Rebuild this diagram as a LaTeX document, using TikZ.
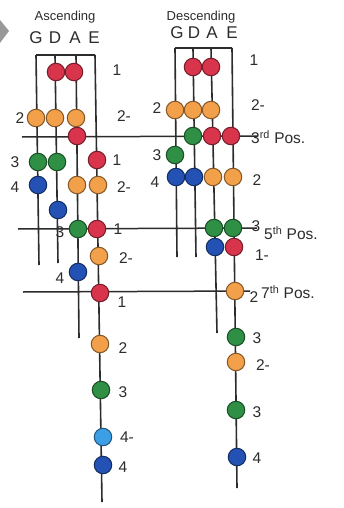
\documentclass[tikz,border=0pt]{standalone}
\usepackage{fontspec}
\setmainfont{Liberation Sans}
\definecolor{fred}{HTML}{D8344C}
\definecolor{forange}{HTML}{F2A04A}
\definecolor{fgreen}{HTML}{2F8F45}
\definecolor{fblue}{HTML}{2452B4}
\definecolor{flblue}{HTML}{3C9FE6}
\definecolor{ink}{HTML}{2C2C2C}
\tikzset{
  strg/.style={draw=ink, line width=1.6pt},
  posline/.style={draw=ink, line width=1.5pt},
  dot/.style={circle, minimum size=17.5pt, inner sep=0pt, line width=1pt},
  r/.style={dot, fill=fred, draw=fred!55!black},
  o/.style={dot, fill=forange, draw=forange!55!black},
  g/.style={dot, fill=fgreen, draw=fgreen!55!black},
  b/.style={dot, fill=fblue, draw=fblue!55!black},
  lb/.style={dot, fill=flblue, draw=flblue!55!black},
  lab/.style={font=\fontsize{15.5}{15.5}\selectfont, text=ink, inner sep=0pt},
  head/.style={font=\fontsize{13}{13}\selectfont, text=ink, inner sep=0pt},
  str/.style={font=\fontsize{17}{17}\selectfont, text=ink, inner sep=0pt},
}
\begin{document}
\begin{tikzpicture}[x=1pt, y=-1pt]
\useasboundingbox (0,0) rectangle (344,508);
\fill[white] (0,0) rectangle (344,508);
% corner marker
\fill[gray!80] (0,20) -- (9,31) -- (0,43) -- cycle;

% ---------------- Ascending ----------------
\node[head] (asc) at (65,17) {Ascending};
\node[str] (lG) at (36,38) {G};
\node[str] (lD) at (55,38) {D};
\node[str] (lA) at (75,38) {A};
\node[str] (lE) at (94,38) {E};
\coordinate (lGt) at (36,55);  \coordinate (lGb) at (39,265);
\coordinate (lDt) at (55,55);  \coordinate (lDb) at (58,263);
\coordinate (lAt) at (76,55);  \coordinate (lAb) at (79,338);
\coordinate (lEt) at (95,55);  \coordinate (lEb) at (102,502);
\draw[strg] (lGt) -- (lEt);
\draw[strg] (lGt) -- (lGb);
\draw[strg] (lDt) -- (lDb);
\draw[strg] (lAt) -- (lAb);
\draw[strg] (lEt) -- (lEb);

% ---------------- Descending ----------------
\node[head] (desc) at (201,17) {Descending};
\node[str] (rG) at (177,33) {G};
\node[str] (rD) at (194,33) {D};
\node[str] (rA) at (212,33) {A};
\node[str] (rE) at (232,33) {E};
\coordinate (rGt) at (175,48);  \coordinate (rGb) at (177,257);
\coordinate (rDt) at (193,48);  \coordinate (rDb) at (196,257);
\coordinate (rAt) at (211,48);  \coordinate (rAb) at (217,333);
\coordinate (rEt) at (232,48);  \coordinate (rEb) at (237,488);
\draw[strg] (rGt) -- (rEt);
\draw[strg] (rGt) -- (rGb);
\draw[strg] (rDt) -- (rDb);
\draw[strg] (rAt) -- (rAb);
\draw[strg] (rEt) -- (rEb);

% ---------------- position lines ----------------
\coordinate (p3a) at (22,137);  \coordinate (p3b) at (258,136);
\coordinate (p5a) at (18,229);  \coordinate (p5b) at (257,228);
\coordinate (p7a) at (23,292);  \coordinate (p7b) at (250,291);
\draw[posline] (p3a) -- (p3b);
\draw[posline] (p5a) -- (p5b);
\draw[posline] (p7a) -- (p7b);

% ---------------- Ascending fingerings ----------------
\node[r] (a1) at (56,72) {};
\node[r] (a2) at (74,72) {};
\node[o] (a3) at (36,118) {};
\node[o] (a4) at (55,118) {};
\node[o] (a5) at (76,118) {};
\node[r] (a6) at (77,136) {};
\node[g] (a7) at (38,162) {};
\node[g] (a8) at (57,162) {};
\node[r] (a9) at (97,160) {};
\node[b] (a10) at (38,185) {};
\node[o] (a11) at (77,185) {};
\node[o] (a12) at (98,185) {};
\node[b] (a13) at (58,210) {};
\node[g] (a14) at (78,229) {};
\node[r] (a15) at (97,229) {};
\node[o] (a16) at (99,256) {};
\node[b] (a17) at (78,272) {};
\node[r] (a18) at (100,293) {};
\node[o] (a19) at (100,344) {};
\node[g] (a20) at (101,390) {};
\node[lb] (a21) at (103,437) {};
\node[b] (a22) at (103,465) {};

\node[lab] at (117,70) {1};
\node[lab] at (20,118) {2};
\node[lab] at (124,116) {2-};
\node[lab] at (15,162) {3};
\node[lab] at (117,160) {1};
\node[lab] at (15,187) {4};
\node[lab] at (124,187) {2-};
\node[lab] at (60,232) {3};
\node[lab] at (118,229) {1};
\node[lab] at (126,258) {2-};
\node[lab] at (60,278) {4};
\node[lab] at (122,302) {1};
\node[lab] at (123,348) {2};
\node[lab] at (123,392) {3};
\node[lab] at (127,437) {4-};
\node[lab] at (123,467) {4};

% ---------------- Descending fingerings ----------------
\node[r] (d1) at (193,67) {};
\node[r] (d2) at (211,67) {};
\node[o] (d3) at (175,110) {};
\node[o] (d4) at (193,110) {};
\node[o] (d5) at (211,110) {};
\node[g] (d6) at (193,136) {};
\node[r] (d7) at (212,136) {};
\node[r] (d8) at (231,136) {};
\node[g] (d9) at (175,155) {};
\node[b] (d10) at (176,177) {};
\node[b] (d11) at (194,177) {};
\node[o] (d12) at (213,177) {};
\node[o] (d13) at (233,177) {};
\node[g] (d14) at (214,228) {};
\node[g] (d15) at (233,228) {};
\node[b] (d16) at (215,247) {};
\node[r] (d17) at (234,247) {};
\node[o] (d18) at (235,291) {};
\node[g] (d19) at (236,337) {};
\node[o] (d20) at (236,362) {};
\node[g] (d21) at (236,410) {};
\node[b] (d22) at (237,457) {};

\node[lab] at (254,60) {1};
\node[lab] at (157,108) {2};
\node[lab] at (258,105) {2-};
\node[lab] at (157,155) {3};
\node[lab] at (155,182) {4};
\node[lab] at (257,180) {2};
\node[lab, anchor=west] at (251,137) {3\textsuperscript{rd} Pos.};
\node[lab] at (256,226) {3};
\node[lab, anchor=west] at (264,233) {5\textsuperscript{th} Pos.};
\node[lab] at (262,255) {1-};
\node[lab] at (254,297) {2};
\node[lab, anchor=west] at (261,292) {7\textsuperscript{th} Pos.};
\node[lab] at (257,338) {3};
\node[lab] at (263,365) {2-};
\node[lab] at (257,412) {3};
\node[lab] at (257,458) {4};
\end{tikzpicture}
\end{document}
